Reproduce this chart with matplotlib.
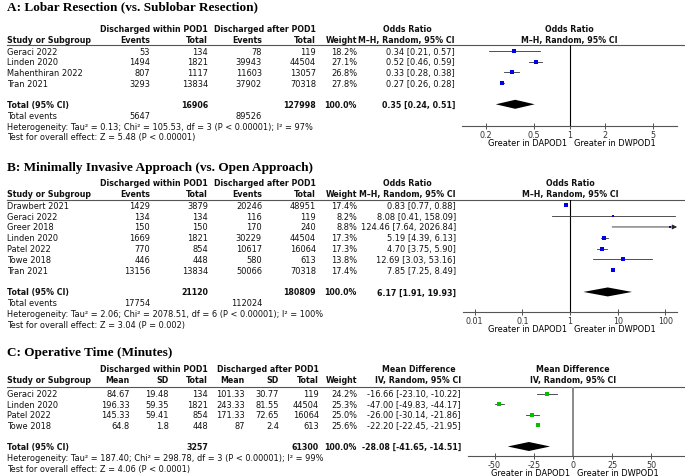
import numpy as np
import matplotlib
matplotlib.use('Agg')
import matplotlib.pyplot as plt
from matplotlib.ticker import NullLocator

W, H = 685, 477
FS = 5.95      # normal table text
FSB = 5.65     # bold table text
plt.rcParams['font.family'] = 'DejaVu Sans'

# A: lobar vs sublobar resection
a_studies = ['Geraci 2022', 'Linden 2020', 'Mahenthiran 2022', 'Tran 2021']
a_events1 = [53, 1494, 807, 3293]
a_total1 = [134, 1821, 1117, 13834]
a_events2 = [78, 39943, 11603, 37902]
a_total2 = [119, 44504, 13057, 70318]
a_weight = [18.2, 27.1, 26.8, 27.8]
a_est = [0.34, 0.52, 0.33, 0.27]
a_lo = [0.21, 0.46, 0.28, 0.26]
a_hi = [0.57, 0.59, 0.38, 0.28]
a_pooled = (0.35, 0.24, 0.51)
a_sum_total = (16906, 127998)
a_sum_events = (5647, 89526)
a_het = 'Heterogeneity: Tau² = 0.13; Chi² = 105.53, df = 3 (P < 0.00001); I² = 97%'
a_test = 'Test for overall effect: Z = 5.48 (P < 0.00001)'

# B: minimally invasive vs open
b_studies = ['Drawbert 2021', 'Geraci 2022', 'Greer 2018', 'Linden 2020',
             'Patel 2022', 'Towe 2018', 'Tran 2021']
b_events1 = [1429, 134, 150, 1669, 770, 446, 13156]
b_total1 = [3879, 134, 150, 1821, 854, 448, 13834]
b_events2 = [20246, 116, 170, 30229, 10617, 580, 50066]
b_total2 = [48951, 119, 240, 44504, 16064, 613, 70318]
b_weight = [17.4, 8.2, 8.8, 17.3, 17.3, 13.8, 17.4]
b_est = [0.83, 8.08, 124.46, 5.19, 4.70, 12.69, 7.85]
b_lo = [0.77, 0.41, 7.64, 4.39, 3.75, 3.03, 7.25]
b_hi = [0.88, 158.09, 2026.84, 6.13, 5.90, 53.16, 8.49]
b_pooled = (6.17, 1.91, 19.93)
b_sum_total = (21120, 180809)
b_sum_events = (17754, 112024)
b_het = 'Heterogeneity: Tau² = 2.06; Chi² = 2078.51, df = 6 (P < 0.00001); I² = 100%'
b_test = 'Test for overall effect: Z = 3.04 (P = 0.002)'

# C: operative time
c_studies = ['Geraci 2022', 'Linden 2020', 'Patel 2022', 'Towe 2018']
c_mean1 = [84.67, 196.33, 145.33, 64.8]
c_sd1 = [19.48, 59.35, 59.41, 1.8]
c_n1 = [134, 1821, 854, 448]
c_mean2 = [101.33, 243.33, 171.33, 87]
c_sd2 = [30.77, 81.55, 72.65, 2.4]
c_n2 = [119, 44504, 16064, 613]
c_weight = [24.2, 25.3, 25.0, 25.6]
c_est = [-16.66, -47.00, -26.00, -22.20]
c_lo = [-23.10, -49.83, -30.14, -22.45]
c_hi = [-10.22, -44.17, -21.86, -21.95]
c_pooled = (-28.08, -41.65, -14.51)
c_sum_total = (3257, 61300)
c_het = 'Heterogeneity: Tau² = 187.40; Chi² = 298.78, df = 3 (P < 0.00001); I² = 99%'
c_test = 'Test for overall effect: Z = 4.06 (P < 0.0001)'

fig = plt.figure(figsize=(W / 100, H / 100), dpi=100)
bg = fig.add_axes([0, 0, 1, 1])
bg.set_xlim(0, W)
bg.set_ylim(H, 0)
bg.axis('off')


def txt(x, y, s, ha='left', bold=False):
    bg.text(x, y, s, ha=ha, va='center', fontsize=FSB if bold else FS,
            color='#111111', fontweight='bold' if bold else 'normal')


def ci_text(e, l, h):
    return f'{e:.2f} [{l:.2f}, {h:.2f}]'


def draw_panel(lay, title, cols, groups, stat, x_est, stat_c, studies, weight,
               est, lo, hi, pooled, events_row, footer, forest_x, xlim, log,
               ticks, ref, color, ref_color='black', ref_lw=0.8):
    bg.text(7, lay['title'], title, ha='left', va='center', fontsize=9.5,
            family='Liberation Serif', fontweight='bold')
    h1, h2 = lay['hdr'], lay['hdr'] + 10.7
    n = len(studies)
    ys = lay['row0'] + lay['step'] * np.arange(n)
    y_tot = lay['row0'] + lay['step'] * (n + 1)

    # table part
    for label, x in groups:
        txt(x, h1, label, ha='right', bold=True)
    txt(7, h2, 'Study or Subgroup', bold=True)
    for y, s in zip(ys, studies):
        txt(7, y, s)
    for x, head, vals, tot in cols:
        txt(x, h2, head, ha='right', bold=True)
        for y, v in zip(ys, vals):
            txt(x, y, f'{v:g}', ha='right')
        if tot is not None:
            txt(x, y_tot, str(tot), ha='right', bold=True)
    txt(357, h2, 'Weight', ha='right', bold=True)
    for y, w in zip(ys, weight):
        txt(357, y, f'{w:.1f}%', ha='right')
    txt(357, y_tot, '100.0%', ha='right', bold=True)
    txt(stat_c, h1, stat[0], ha='center', bold=True)
    txt(x_est, h2, stat[1], ha='right', bold=True)
    for y, e, l, h in zip(ys, est, lo, hi):
        txt(x_est, y, ci_text(e, l, h), ha='right')
    txt(x_est, y_tot, ci_text(*pooled), ha='right', bold=True)
    txt(7, y_tot, 'Total (95% CI)', bold=True)

    fy = y_tot + 11
    if events_row is not None:
        txt(7, fy, 'Total events')
        for x, v in events_row:
            txt(x, fy, str(v), ha='right')
        fy += 10.8
    for line in footer:
        txt(7, fy, line)
        fy += 10.8

    bg.plot([7, W], [lay['line'], lay['line']], color='#555555', lw=0.8)

    # forest part
    x0, x1 = forest_x
    ax = fig.add_axes([x0 / W, 1 - lay['axis'] / H, (x1 - x0) / W,
                       (lay['axis'] - lay['line']) / H])
    ax.patch.set_alpha(0)
    if log:
        ax.set_xscale('log')
    ax.set_xlim(*xlim)
    ax.set_ylim(lay['axis'], lay['line'])
    for s in ('top', 'left', 'right'):
        ax.spines[s].set_visible(False)
    ax.spines['bottom'].set_color('#555555')
    ax.spines['bottom'].set_linewidth(0.8)
    ax.set_yticks([])
    ax.set_xticks(ticks, [f'{t:g}' for t in ticks])
    ax.xaxis.set_minor_locator(NullLocator())
    ax.tick_params(axis='x', direction='inout', length=5, width=0.6,
                   colors='#333333', labelsize=FS - 0.2, pad=0.3)
    ax.axvline(ref, color=ref_color, lw=ref_lw)

    xmax = xlim[1]
    for y, e, l, h, w in zip(ys, est, lo, hi, weight):
        if h > xmax:
            ax.annotate('', xy=(xmax, y), xytext=(l, y),
                        arrowprops=dict(arrowstyle='-|>', color='#222222',
                                        lw=0.6, mutation_scale=7,
                                        shrinkA=0, shrinkB=0))
        else:
            ax.plot([l, h], [y, y], color='#333333', lw=0.6)
        ax.plot([e], [y], marker='s', ls='none', color=color, mew=0,
                ms=(0.6 + 0.75 * np.sqrt(w)) * 0.72)
    e, l, h = pooled
    ax.fill([l, e, h, e], [y_tot, y_tot - 4.5, y_tot, y_tot + 4.5],
            color='black', lw=0)

    x_ref = ax.transData.transform((ref, 1))[0]
    txt(x_ref, h1, stat[0], ha='center', bold=True)
    txt(x_ref, h2, stat[1], ha='center', bold=True)
    ax.annotate('Greater in DAPOD1', xy=(ref, 0),
                xycoords=('data', 'axes fraction'), xytext=(-2, -11.8),
                textcoords='offset points', ha='right', va='center',
                fontsize=FS)
    ax.annotate('Greater in DWPOD1', xy=(ref, 0),
                xycoords=('data', 'axes fraction'), xytext=(3, -11.8),
                textcoords='offset points', ha='left', va='center',
                fontsize=FS)


draw_panel(dict(title=7, hdr=30, line=45.5, row0=52.3, step=10.6, axis=127),
           'A: Lobar Resection (vs. Sublobar Resection)',
           [(150, 'Events', a_events1, None), (208, 'Total', a_total1, a_sum_total[0]),
            (262, 'Events', a_events2, None), (316, 'Total', a_total2, a_sum_total[1])],
           [('Discharged within POD1', 208), ('Discharged after POD1', 316)],
           ('Odds Ratio', 'M–H, Random, 95% CI'), 455, 407,
           a_studies, a_weight, a_est, a_lo, a_hi, a_pooled,
           [(150, a_sum_events[0]), (262, a_sum_events[1])], [a_het, a_test],
           (462, 677), (0.125, 8.0), True, [0.2, 0.5, 1, 2, 5], 1, '#0000e6')

draw_panel(dict(title=168, hdr=183.5, line=200.5, row0=206.3, step=10.83, axis=313),
           'B: Minimally Invasive Approach (vs. Open Approach)',
           [(150, 'Events', b_events1, None), (208, 'Total', b_total1, b_sum_total[0]),
            (262, 'Events', b_events2, None), (316, 'Total', b_total2, b_sum_total[1])],
           [('Discharged within POD1', 208), ('Discharged after POD1', 316)],
           ('Odds Ratio', 'M–H, Random, 95% CI'), 456, 407,
           b_studies, b_weight, b_est, b_lo, b_hi, b_pooled,
           [(150, b_sum_events[0]), (262, b_sum_events[1])], [b_het, b_test],
           (463, 677), (0.0057, 175), True, [0.01, 0.1, 1, 10, 100], 1, '#0000e6')

draw_panel(dict(title=353, hdr=370, line=388, row0=394.5, step=10.6, axis=457),
           'C: Operative Time (Minutes)',
           [(130, 'Mean', c_mean1, None), (169, 'SD', c_sd1, None),
            (208, 'Total', c_n1, c_sum_total[0]), (245, 'Mean', c_mean2, None),
            (279, 'SD', c_sd2, None), (319, 'Total', c_n2, c_sum_total[1])],
           [('Discharged within POD1', 208), ('Discharged after POD1', 319)],
           ('Mean Difference', 'IV, Random, 95% CI'), 461, 419,
           c_studies, c_weight, c_est, c_lo, c_hi, c_pooled,
           None, [c_het, c_test],
           (468, 684), (-67, 71), False, [-50, -25, 0, 25, 50], 0, '#00c000',
           ref_color='#8a8a8a', ref_lw=1.4)

fig.savefig('out.png', dpi=100)
